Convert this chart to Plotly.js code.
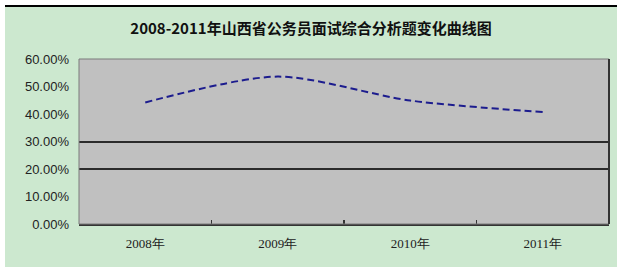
<!DOCTYPE html>
<html><head><meta charset="utf-8">
<script src="https://cdn.plot.ly/plotly-3.0.1.min.js"></script>
<style>
html,body{margin:0;padding:0;background:#fff;width:617px;height:267px;overflow:hidden}
#wrap{position:absolute;left:5px;top:5px;width:612px;height:260px;border-top:2px solid #000;background:#cce8cf}
#chart{width:612px;height:260px}
</style></head><body>
<div id="wrap"><div id="chart"></div></div>
<script>
const titleText = '2008-2011年山西省公务员面试综合分析题变化曲线图';
const years = ['2008年','2009年','2010年','2011年'];
const rates = [44.2, 53.6, 44.9, 40.7];
const yTicks = [0,10,20,30,40,50,60];
const gridLevels = [20,30];

const trace = {
  x: years, y: rates, type:'scatter', mode:'lines',
  line:{color:'#1c1c8e', width:2, dash:'7px,4px', shape:'spline', smoothing:0.8},
  hoverinfo:'skip'
};
const gridTrace = {x: years, y: [null,null,null,null], yaxis:'y2', type:'scatter', mode:'lines', showlegend:false, hoverinfo:'skip'};

const layout = {
  width:612, height:260,
  margin:{l:74, r:8, t:52, b:43},
  paper_bgcolor:'#cce8cf', plot_bgcolor:'#c0c0c0',
  showlegend:false,
  title:{text:titleText, x:0.5, xanchor:'center', y:0.915, yanchor:'middle',
    font:{family:'Noto Sans CJK SC', size:15, color:'#111', weight:'bold'}},
  font:{family:'Liberation Sans', size:13, color:'#222'},
  xaxis:{type:'category', range:[-0.5,3.5], tickson:'boundaries', ticks:'inside', ticklen:4, tickcolor:'#333', tickwidth:1.5,
    showgrid:false, showline:true, linecolor:'#333', linewidth:2, zeroline:false, ticklabelstandoff:6,
    tickfont:{family:'Liberation Serif', size:13, color:'#222'}},
  yaxis:{range:[0,60], tickvals:yTicks, ticktext:yTicks.map(v=>v.toFixed(2)+'%'), showgrid:false, zeroline:false,
    showline:false, ticks:'', ticklabelstandoff:9,
    tickfont:{family:'Liberation Sans', size:13, color:'#222'}},
  yaxis2:{overlaying:'y', range:[0,60], tickvals:gridLevels, showticklabels:false, showgrid:true,
    gridcolor:'#2b2b2b', gridwidth:2, zeroline:false, ticks:''},
  shapes:[{type:'rect', xref:'paper', yref:'paper', x0:0, x1:1, y0:0, y1:1, line:{color:'#7a7a7a', width:1}, layer:'above'},
          {type:'line', xref:'paper', yref:'paper', x0:1, x1:1, y0:0, y1:1, line:{color:'#333', width:2}, layer:'above'}]
};
Plotly.newPlot('chart', [gridTrace, trace], layout, {displayModeBar:false, staticPlot:true});
</script></body></html>
